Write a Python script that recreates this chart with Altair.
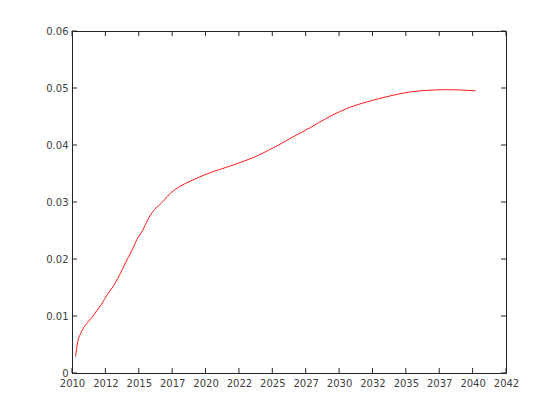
import altair as alt
import pandas as pd

# Data
years = [2010.27, 2010.43, 2010.62, 2010.81, 2011.00, 2011.18, 2011.51, 2011.81, 2012.19,
         2012.68, 2013.06, 2013.56, 2014.06, 2014.44, 2014.93, 2015.31, 2015.68, 2016.18,
         2016.56, 2016.93, 2017.31, 2018.06, 2018.81, 2019.56, 2020.31, 2021.06, 2022.56,
         2024.06, 2024.81, 2025.55, 2026.30, 2027.80, 2029.30, 2030.80, 2032.30, 2033.80,
         2035.30, 2036.67, 2038.05, 2039.55, 2040.22]
values = [0.0029, 0.0055, 0.0068, 0.0077, 0.0084, 0.0089, 0.0098, 0.0108, 0.0120,
          0.0139, 0.0151, 0.0172, 0.0196, 0.0213, 0.0237, 0.0251, 0.0269, 0.0287,
          0.0295, 0.0304, 0.0314, 0.0327, 0.0336, 0.0344, 0.0351, 0.0357, 0.0369,
          0.0383, 0.0392, 0.0401, 0.0411, 0.0430, 0.0450, 0.0466, 0.0477, 0.0486,
          0.0493, 0.0496, 0.0497, 0.0496, 0.0495]

x_ticks = [2010, 2012.5, 2015, 2017.5, 2020, 2022.5, 2025, 2027.5, 2030, 2032.5,
           2035, 2037.5, 2040, 2042.5]
y_ticks = [0, 0.01, 0.02, 0.03, 0.04, 0.05, 0.06]

W, H = 434, 342
TICK = 5
AX = "#262626"
LAB = "#404040"

df = pd.DataFrame({"year": years, "value": values})
xt = pd.DataFrame({"year": x_ticks})
yt = pd.DataFrame({"value": y_ticks})

xscale = alt.Scale(domain=[2010, 2042.5], nice=False, zero=False)
yscale = alt.Scale(domain=[0, 0.06], nice=False, zero=True)

xaxis = alt.Axis(values=x_ticks, labelExpr="floor(datum.value)", tickSize=0,
                 grid=False, domainColor=AX, labelColor=LAB, labelFont="DejaVu Sans",
                 labelFontSize=10, labelPadding=5, labelFlush=False, labelOverlap=False,
                 title=None)
yaxis = alt.Axis(values=y_ticks, format="~g", tickSize=0, grid=False, domainColor=AX,
                 labelColor=LAB, labelFont="DejaVu Sans", labelFontSize=10,
                 labelPadding=4, labelFlush=False, labelOverlap=False, title=None)

line = alt.Chart(df).mark_line(color="#ff0000", strokeWidth=0.9, interpolate="monotone").encode(
    x=alt.X("year:Q", scale=xscale, axis=xaxis),
    y=alt.Y("value:Q", scale=yscale, axis=yaxis),
)

bottom_ticks = alt.Chart(xt).mark_rule(color=AX, strokeWidth=1).encode(
    x=alt.X("year:Q", scale=xscale, axis=xaxis),
    y=alt.value(H), y2=alt.value(H - TICK))
top_ticks = alt.Chart(xt).mark_rule(color=AX, strokeWidth=1).encode(
    x=alt.X("year:Q", scale=xscale, axis=xaxis),
    y=alt.value(0), y2=alt.value(TICK))
left_ticks = alt.Chart(yt).mark_rule(color=AX, strokeWidth=1).encode(
    y=alt.Y("value:Q", scale=yscale, axis=yaxis),
    x=alt.value(0), x2=alt.value(TICK))
right_ticks = alt.Chart(yt).mark_rule(color=AX, strokeWidth=1).encode(
    y=alt.Y("value:Q", scale=yscale, axis=yaxis),
    x=alt.value(W), x2=alt.value(W - TICK))

chart = alt.layer(line, bottom_ticks, top_ticks, left_ticks, right_ticks).properties(
    width=W, height=H,
    autosize="none",
    padding={"left": 64, "top": 23, "right": 20, "bottom": 30},
    background="white",
).configure_view(stroke=AX, strokeWidth=1)

chart.save("out.html", embed_options={"renderer": "svg", "actions": False})
